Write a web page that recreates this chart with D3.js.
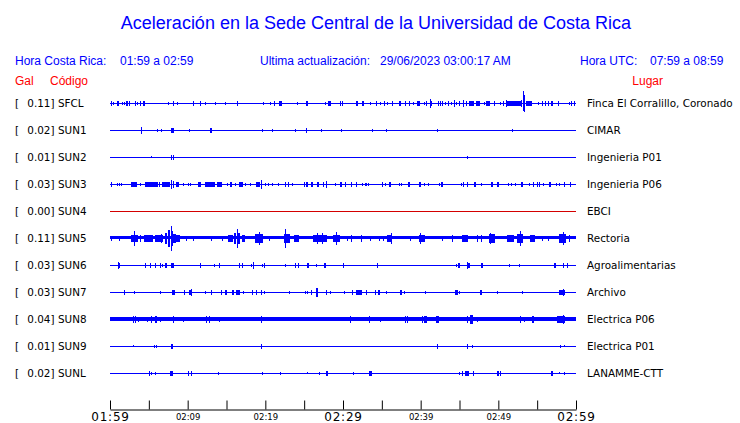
<!DOCTYPE html>
<html><head><meta charset="utf-8">
<script src="https://cdn.jsdelivr.net/npm/d3@7/dist/d3.min.js"></script>
<style>
html,body{margin:0;padding:0;background:#fff;}
svg{display:block;}
</style></head>
<body>
<script>
// ---------------- DATA ----------------
const stations = ["SFCL","SUN1","SUN2","SUN3","SUN4","SUN5","SUN6","SUN7","SUN8","SUN9","SUNL"];
const galMax = [0.11,0.02,0.01,0.03,0.00,0.11,0.03,0.03,0.04,0.01,0.02];
const places = ["Finca El Corralillo, Coronado","CIMAR","Ingenieria P01","Ingenieria P06","EBCI","Rectoria","Agroalimentarias","Archivo","Electrica P06","Electrica P01","LANAMME-CTT"];
// background noise half-amplitude (Gal)
const baseNoise = [0.004,0.004,0.004,0.004,0.004,0.016,0.004,0.004,0.017,0.004,0.004];
const deadStation = [false,false,false,false,true,false,false,false,false,false,false];
const timeStart = "01:59", timeEnd = "02:59";
const tickLabels = ["01:59","02:09","02:19","02:29","02:39","02:49","02:59"];
const majorLabels = ["01:59","02:29","02:59"];
// bursts: [minute after 01:59, half-amplitude up (Gal), duration (min), half-amplitude down (optional)]
const burstsSFCL = [[0.13,.014,.04],[0.43,.009,.04],[0.99,.014,.26],[1.59,.009,.04],[1.80,.009,.04],[2.15,.014,.26],[2.49,.014,.09],[3.30,.014,.17],[3.56,.009,.09],[3.91,.014,.09],[4.42,.014,.26],[7.51,.009,.04],[8.07,.014,.04],[8.67,.009,.04],[10.77,.014,.21],[11.55,.014,.04],[12.23,.009,.04],[13.56,.009,.04],[14.85,.009,.04],[16.39,.014,.04],[19.70,.009,.04],[20.64,.009,.04],[21.20,.014,.04],[21.97,.014,.43],[24.12,.009,.04],[25.36,.014,.17],[27.73,.009,.04],[28.20,.014,.39],[29.57,.014,.04],[29.83,.014,.04],[31.85,.014,.26],[32.62,.014,.26],[33.52,.009,.04],[34.21,.014,.04],[34.72,.009,.04],[35.32,.014,.04],[35.67,.009,.04],[36.31,.014,.04],[37.34,.014,.26],[37.98,.014,.09],[38.50,.014,.09],[39.01,.009,.04],[39.74,.014,.39],[40.47,.009,.04],[40.69,.018,.04],[41.30,.018,.26],[41.20,.034,.09],[42.19,.014,.04],[42.45,.014,.04],[42.79,.014,.04],[43.13,.009,.04],[43.56,.014,.04],[43.95,.009,.04],[44.33,.023,.09],[44.64,.009,.09],[45.02,.014,.09],[45.54,.023,.17],[45.84,.014,.09],[46.57,.014,.64],[47.42,.014,.52],[48.15,.009,.04],[48.67,.014,.64],[49.57,.014,.13],[50.26,.009,.04],[50.69,.014,.09],[52.0,.016,2.0],[51.07,.023,.17],[52.9,.023,.09],[53.35,.07,.04],[53.26,.11,.04,.067],[53.95,.014,.86],[55.15,.009,.04],[55.58,.014,.04],[56.01,.014,.09],[56.44,.014,.09],[56.91,.014,.26],[57.73,.014,.09],[59.06,.009,.04],[59.40,.014,.04],[59.74,.014,.04]];
const burstsSUN1 = [[4.03,.023,.09],[6.09,.012,.04],[6.65,.009,.04],[8.03,.014,.34],[10.21,.011,.04],[13.0,.014,.17],[19.53,.011,.04],[20.9,.007,.04],[23.86,.007,.04],[25.36,.014,.13],[27.25,.011,.04],[29.70,.011,.04],[33.78,.007,.04],[35.62,.011,.04],[42.15,.011,.04],[51.8,.012,.04]];
const burstsSUN2 = [[5.32,.011,.04,0],[7.90,.014,.04],[8.15,.014,.04],[46.0,.012,.04]];
const burstsSUN3 = [[0.21,.014,.13],[0.86,.009,.04],[1.16,.009,.04],[1.42,.009,.04],[3.13,.014,.73],[3.86,.011,.09],[5.36,.014,1.72],[6.35,.018,.09],[7.17,.016,1.07],[7.94,.038,.09],[8.15,.023,.13],[8.71,.014,.43],[9.48,.009,.04],[10.0,.009,.04],[10.34,.011,.04],[11.5,.014,.43],[12.88,.014,1.3],[14.12,.014,.7],[15.15,.011,.09],[15.58,.014,.26],[16.09,.011,.09],[16.87,.014,.6],[17.47,.011,.09],[18.07,.009,.04],[18.88,.014,.26],[19.18,.018,.17],[19.44,.034,.09],[19.96,.009,.04],[20.39,.009,.04],[20.94,.009,.04],[21.59,.009,.04],[22.58,.014,.09],[23.0,.014,.13],[23.43,.009,.04],[25.02,.014,.17],[25.36,.014,.17],[26.05,.014,.26],[26.74,.014,.26],[27.51,.014,.09],[27.9,.023,.09],[29.01,.009,.04],[29.70,.014,.26],[30.34,.014,.13],[31.12,.014,.13],[31.76,.014,.17],[32.49,.009,.04],[32.8,.009,.04],[33.0,.009,.04],[33.26,.009,.04],[35.11,.014,.13],[35.45,.011,.09],[36.05,.014,.26],[37.25,.011,.09],[37.47,.009,.04],[38.54,.014,.26],[39.96,.014,.26],[40.43,.011,.09],[40.99,.009,.04],[42.32,.009,.04],[42.75,.014,.21],[45.19,.009,.04],[45.49,.014,.09],[46.01,.014,.17],[47.0,.014,.26],[47.85,.009,.04],[49.14,.014,.26],[49.91,.014,.26],[51.29,.011,.09],[51.63,.011,.09],[52.23,.009,.04],[53.0,.014,.26],[53.95,.009,.04],[54.51,.014,.17],[55.02,.014,.09],[55.28,.014,.09],[55.79,.009,.04],[56.65,.014,.17],[57.43,.009,.04],[57.86,.009,.04],[58.46,.014,.09],[59.27,.014,.09]];
const burstsSUN4 = [];
const burstsSUN5 = [[0.21,.021,.13],[1.16,.018,.04],[2.9,.03,.3],[3.4,.03,.3],[3.13,.061,.12],[3.86,.023,.09],[4.64,.027,.45],[5.0,.027,1.16],[6.32,.032,1.07],[6.55,.041,.09],[7.2,.05,.3],[8.0,.06,.3],[8.3,.04,.3],[7.6,.073,.3],[7.85,.107,.06],[8.69,.027,.64],[9.79,.021,.04],[10.73,.018,.04],[13.09,.021,.09],[14.5,.018,.04],[15.52,.027,.72],[16.1,.046,.3],[16.6,.046,.25],[16.4,.081,.06],[17.2,.023,.4],[19.0,.04,.6],[19.5,.035,.3],[19.25,.055,.15],[20.5,.018,.09],[22.8,.035,.86],[22.53,.08,.06],[24.0,.023,.6],[27.0,.027,1.8],[26.7,.046,.09],[27.4,.05,.09],[29.2,.032,.9],[29.1,.055,.09],[30.5,.018,.04],[31.1,.023,.09],[32.4,.023,.17],[33.5,.016,.04],[34.7,.018,.04],[35.2,.018,.04],[36.0,.032,.65],[36.2,.046,.06],[38.6,.018,.04],[40.2,.032,.75],[40.0,.046,.09],[42.8,.018,.04],[44.1,.027,.04],[45.7,.023,.75],[47.35,.023,.09],[47.86,.023,.09],[49.2,.037,.8],[48.98,.05,.06],[51.6,.023,.86],[52.8,.037,.85],[52.85,.064,.06],[54.4,.027,.65],[55.6,.021,.04],[56.4,.021,.04],[58.3,.037,.85],[58.4,.055,.06],[59.2,.023,.09]];
const burstsSUN6 = [[1.03,.023,.09],[1.16,.014,.13],[4.59,.014,.17],[5.24,.018,.09],[5.92,.014,.13],[6.52,.014,.13],[6.74,.009,.04],[7.25,.014,.26],[8.03,.014,.34],[11.59,.018,.09],[13.35,.009,.04],[14.12,.014,.17],[16.70,.014,.09],[17.0,.014,.09],[18.15,.009,.04],[18.5,.023,.17],[19.53,.009,.04],[19.91,.018,.09],[22.49,.011,.04],[23.82,.018,.09],[24.25,.014,.17],[25.54,.014,.26],[26.48,.009,.04],[27.73,.014,.26],[30.09,.014,.09],[34.46,.014,.17],[44.59,.011,.09],[44.94,.014,.17],[46.27,.014,.26],[46.05,.032,.09],[47.85,.014,.26],[51.42,.009,.04],[52.62,.011,.04],[57.3,.014,.17],[58.41,.014,.17],[58.93,.014,.17]];
const burstsSUN7 = [[1.85,.014,.21],[3.09,.007,.09],[6.48,.009,.04],[8.15,.014,.34],[9.61,.018,.09],[10.30,.014,.26],[10.43,.023,.09],[12.27,.007,.04],[13.09,.014,.17],[14.33,.014,.17],[14.89,.014,.26],[15.88,.014,.26],[16.44,.014,.43],[16.7,.018,.09],[17.12,.009,.04],[18.28,.014,.09],[18.88,.014,.09],[19.48,.014,.09],[19.87,.009,.04],[23.09,.011,.04],[25.11,.009,.04],[25.41,.009,.04],[25.97,.014,.09],[26.65,.034,.17],[27.9,.014,.13],[28.41,.009,.04],[30.13,.009,.04],[31.16,.014,.09],[32.06,.014,.86],[33.05,.014,.17],[34.21,.014,.17],[34.64,.014,.17],[35.62,.009,.04],[37.51,.014,.26],[37.85,.009,.04],[40.6,.009,.04],[44.59,.014,.34],[44.98,.009,.04],[47.73,.014,.26],[49.91,.007,.04],[53.13,.011,.04],[58.2,.018,.86],[58.37,.032,.17]];
const burstsSUN8 = [[3.05,.028,.09],[3.22,.023,.09],[3.65,.018,.09],[4.72,.018,.04],[5.36,.023,.17],[5.92,.023,.17],[6.44,.018,.04],[8.15,.029,.17],[9.44,.018,.04],[12.45,.023,.09],[12.75,.023,.09],[13.99,.018,.04],[19.53,.023,.13],[30.9,.023,.09],[33.39,.023,.09],[34.81,.018,.04],[37.98,.023,.09],[38.33,.023,.09],[40.22,.023,.13],[40.65,.023,.43],[42.15,.028,.43],[46.0,.023,.09],[46.57,.035,.34],[47.25,.018,.04],[52.8,.023,.09],[53.35,.018,.04],[54.51,.023,.26],[58.03,.028,1.07],[58.37,.04,.13]];
const burstsSUN9 = [[3.0,.009,.04,0],[5.71,.011,.04],[5.97,.009,.04],[8.03,.014,.26],[19.57,.014,.13],[42.15,.014,.04],[46.0,.014,.04],[46.57,.011,.04],[57.98,.009,.04],[58.5,.009,.04,0]];
const burstsSUNL = [[5.06,.014,.17],[5.28,.009,.04],[5.79,.007,.04],[7.94,.014,.43],[10.13,.014,.09],[10.43,.018,.09],[13.95,.011,.04],[19.53,.011,.04],[21.89,.011,.09],[25.41,.009,.04,0],[26.95,.007,.04],[27.94,.014,.17],[31.33,.011,.04],[33.52,.014,.34],[44.98,.009,.04],[45.37,.014,.09],[45.92,.014,.52],[46.83,.014,.17],[50.0,.014,.26],[50.3,.014,.17],[56.95,.014,.26],[57.81,.011,.09,0],[58.5,.007,.04]];
const bursts = [burstsSFCL,burstsSUN1,burstsSUN2,burstsSUN3,burstsSUN4,burstsSUN5,burstsSUN6,burstsSUN7,burstsSUN8,burstsSUN9,burstsSUNL];

// ---------------- DRAW ----------------
const W = 740, H = 423;
const svg = d3.select("body").append("svg").attr("width", W).attr("height", H);
const BLUE = "#0000ff", RED = "#ff0000";
const sans = "'Liberation Sans', Arial, sans-serif";
const dv = "'DejaVu Sans', sans-serif";
const LBL = 10.4;

svg.append("text").attr("x", 376).attr("y", 29).attr("text-anchor", "middle")
  .attr("font-family", sans).attr("font-size", 18).attr("fill", BLUE)
  .text("Aceleración en la Sede Central de la Universidad de Costa Rica");

const hdr = [
  [15, "Hora Costa Rica:"], [120, timeStart + " a " + timeEnd],
  [260, "Ultima actualización:"], [380, "29/06/2023 03:00:17 AM"],
  [580, "Hora UTC:"], [650, "07:59 a 08:59"]
];
hdr.forEach(h => svg.append("text").attr("x", h[0]).attr("y", 65)
  .attr("font-family", sans).attr("font-size", 12).attr("fill", BLUE).text(h[1]));
[[15, "Gal", "start"], [50, "Código", "start"], [663, "Lugar", "end"]].forEach(h =>
  svg.append("text").attr("x", h[0]).attr("y", 85).attr("text-anchor", h[2])
    .attr("font-family", sans).attr("font-size", 12).attr("fill", RED).text(h[1]));

const parse = d3.timeParse("%H:%M");
const t0 = parse(timeStart), t1 = parse(timeEnd);
const x = d3.scaleTime().domain([t0, t1]).range([110, 576]);
const xm = m => x(new Date(t0.getTime() + m * 60000));
const rowY = d3.scaleLinear().domain([0, stations.length - 1]).range([103, 373]);
const amp = d3.scaleLinear().domain([0, 0.11]).range([0, 12]);

stations.forEach((s, i) => {
  const cy = rowY(i);
  const g = svg.append("g");
  g.append("text").attr("x", 15).attr("y", cy + 4).attr("font-family", dv).attr("font-size", LBL).attr("fill", "#000").text("[");
  g.append("text").attr("x", 54.5).attr("y", cy + 4).attr("text-anchor", "end").attr("font-family", dv).attr("font-size", LBL).attr("fill", "#000").text(galMax[i].toFixed(2) + "]");
  g.append("text").attr("x", 58).attr("y", cy + 4).attr("font-family", dv).attr("font-size", LBL).attr("fill", "#000").text(s);
  g.append("text").attr("x", 587).attr("y", cy + 4).attr("font-family", dv).attr("font-size", LBL).attr("fill", "#000").text(places[i]);

  const col = deadStation[i] ? "#d40000" : BLUE;
  const bh = Math.max(0.5, amp(baseNoise[i]));
  g.append("rect").attr("x", xm(0)).attr("width", xm(60) - xm(0))
    .attr("y", Math.round(cy - bh)).attr("height", Math.max(1, Math.round(2 * bh)))
    .attr("fill", col).attr("shape-rendering", "crispEdges");
  g.selectAll("rect.b").data(bursts[i]).join("rect").attr("class", "b")
    .attr("shape-rendering", "crispEdges").attr("fill", col)
    .attr("x", d => Math.round(xm(d[0] - d[2] / 2)))
    .attr("width", d => Math.max(1, Math.round(xm(d[0] + d[2] / 2)) - Math.round(xm(d[0] - d[2] / 2))))
    .attr("y", d => Math.round(cy - amp(d[1])))
    .attr("height", d => Math.max(1, Math.round(cy + 1 + amp(d[3] === undefined ? d[1] : d[3])) - Math.round(cy - amp(d[1]))));
});

// time axis
const ax = d3.axisBottom(x).tickSizeInner(-9).tickSizeOuter(0)
  .tickFormat(d => { const s = d3.timeFormat("%H:%M")(d); return tickLabels.includes(s) ? s : ""; });
const tickVals = d3.range(0, 61, 5).map(m => new Date(t0.getTime() + m * 60000));
ax.tickValues(tickVals);
const axg = svg.append("g").attr("transform", "translate(0,409.5)").call(ax);
axg.select(".domain").attr("stroke", "#000");
axg.selectAll(".tick line").attr("stroke", "#000");
axg.selectAll(".tick text").attr("font-family", dv).attr("fill", "#000")
  .each(function() {
    const t = d3.select(this), s = t.text();
    if (majorLabels.includes(s)) t.attr("font-size", 12).attr("letter-spacing", 0.8).attr("y", 2.6);
    else t.attr("font-size", 8.5).attr("y", 4);
  });
</script>
</body></html>
